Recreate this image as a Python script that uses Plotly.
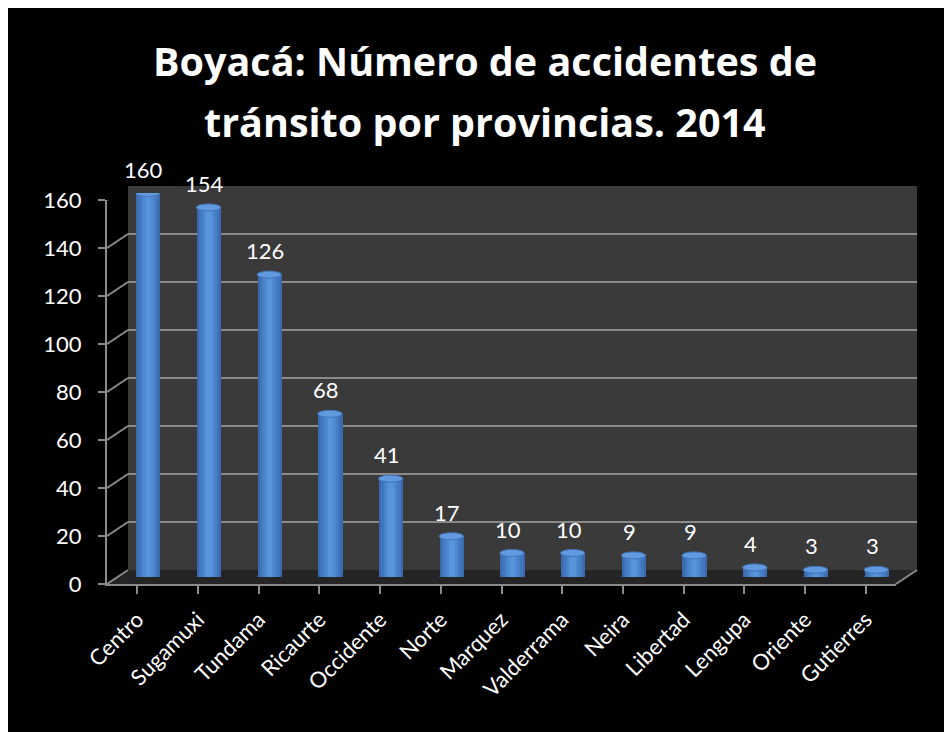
import plotly.graph_objects as go

# ---------------- data ----------------
provincias = ["Centro", "Sugamuxi", "Tundama", "Ricaurte", "Occidente", "Norte",
              "Marquez", "Valderrama", "Neira", "Libertad", "Lengupa", "Oriente", "Gutierres"]
accidentes = [160, 154, 126, 68, 41, 17, 10, 10, 9, 9, 4, 3, 3]
y_ticks = [0, 20, 40, 60, 80, 100, 120, 140, 160]
title_line1 = "Boyacá: Número de accidentes de"
title_line2 = "tránsito por provincias. 2014"

# ---------------- layout constants (figure pixels) ----------------
W, H = 952, 732
FX0, FX1 = 99, 888       # front x-axis extent
FY0, FY1 = 576, 192      # front y: value 0 / value 160
DX, DY = 21, 14          # depth offset of back wall
YMAX = 160
FONT = "Lato"
TFONT = "Open Sans"
GRID = "#8a8a8a"
WALL = "#3a3a3a"
FLOOR = "#252525"

def px(x):
    return x / W

def py(y):
    return (H - y) / H

n = len(provincias)
xr = [-0.5, n - 0.5]
scale = (FY0 - FY1) / YMAX          # px per unit
ddy = DY / scale                    # depth offset in data units

fig = go.Figure()

# shading layers of cylinders (overlay bars)
layers = [(0.40, "#3a6aad"), (0.33, "#4175bc"), (0.25, "#4880c8"), (0.17, "#4e8ad2"), (0.09, "#5894da")]
for w, c in layers:
    fig.add_trace(go.Bar(x=list(range(n)), y=accidentes, width=w,
                         marker=dict(color=c, line=dict(width=0)),
                         xaxis="x3", yaxis="y3", hoverinfo="skip", showlegend=False))

# invisible traces to activate front / back axes
fig.add_trace(go.Scatter(x=provincias, y=[None] * n, xaxis="x", yaxis="y",
                         mode="markers", showlegend=False, hoverinfo="skip"))
fig.add_trace(go.Scatter(x=[0], y=[None], xaxis="x2", yaxis="y2",
                         mode="markers", showlegend=False, hoverinfo="skip"))

shapes = []
# back wall
shapes.append(dict(type="rect", xref="x2 domain", yref="y2 domain", x0=0, x1=1, y0=0, y1=1,
                   fillcolor=WALL, line=dict(width=0), layer="below"))
# floor
floor_path = "M {a},{b} L {c},{b} L {d},{e} L {f},{e} Z".format(
    a=px(FX0), b=py(FY0), c=px(FX1), d=px(FX1 + DX), e=py(FY0 - DY), f=px(FX0 + DX))
shapes.append(dict(type="path", xref="paper", yref="paper", path=floor_path,
                   fillcolor=FLOOR, line=dict(width=0), layer="below"))
# floor right edge
shapes.append(dict(type="line", xref="paper", yref="paper", x0=px(FX1), y0=py(FY0),
                   x1=px(FX1 + DX), y1=py(FY0 - DY), line=dict(color=GRID, width=2), layer="below"))
# left side-wall connectors
for v in y_ticks:
    shapes.append(dict(type="line", xref="paper", yref="y", x0=px(FX0), y0=v,
                       x1=px(FX0 + DX), y1=v + ddy, line=dict(color=GRID, width=2), layer="below"))

# cylinder caps
cap_h = 7 / scale
for i, v in enumerate(accidentes):
    shapes.append(dict(type="circle", xref="x3", yref="y3", x0=i - 0.2, x1=i + 0.2,
                       y0=-cap_h / 2, y1=cap_h / 2, fillcolor="#33609e",
                       line=dict(width=0), layer="between"))
    shapes.append(dict(type="circle", xref="x3", yref="y3", x0=i - 0.2, x1=i + 0.2,
                       y0=v - cap_h / 2, y1=v + cap_h / 2, fillcolor="#619adf",
                       line=dict(color="#4274b8", width=1), layer="above"))

annotations = []
for i, v in enumerate(accidentes):
    annotations.append(dict(x=i, y=v, xref="x3", yref="y3", text=str(v), showarrow=False,
                            xanchor="center", yanchor="middle",
                            yshift=24, xshift=-4, font=dict(family=FONT, size=22, color="white")))
annotations.append(dict(x=px(477), y=py(53), xref="paper", yref="paper", text="<b>" + title_line1 + "</b>",
                        xanchor="center", yanchor="middle",
                        showarrow=False, font=dict(family=TFONT, size=39.5, color="white")))
annotations.append(dict(x=px(477), y=py(114), xref="paper", yref="paper", text="<b>" + title_line2 + "</b>",
                        xanchor="center", yanchor="middle",
                        showarrow=False, font=dict(family=TFONT, size=39.5, color="white")))

fig.update_layout(
    template="none",
    width=W, height=H, autosize=False,
    margin=dict(l=0, r=0, t=0, b=0, pad=0, autoexpand=False),
    paper_bgcolor="black", plot_bgcolor="rgba(0,0,0,0)",
    barmode="overlay", bargap=0,
    showlegend=False,
    shapes=shapes, annotations=annotations,
    xaxis=dict(domain=[px(FX0), px(FX1)], range=xr, anchor="y", automargin=False,
               tickmode="array", tickvals=list(range(n)), ticktext=provincias,
               ticks="outside", ticklen=8, tickwidth=2, tickcolor=GRID,
               showline=True, linecolor=GRID, linewidth=2, showgrid=False, zeroline=False,
               tickangle=-45, ticklabelstandoff=4,
               tickfont=dict(family=FONT, size=22, color="white")),
    yaxis=dict(domain=[py(FY0), py(FY1)], range=[0, YMAX], anchor="x", automargin=False,
               tickmode="array", tickvals=y_ticks,
               ticks="outside", ticklen=7, tickwidth=2, tickcolor=GRID,
               showline=True, linecolor=GRID, linewidth=2, showgrid=False, zeroline=False,
               ticklabelstandoff=12,
               tickfont=dict(family=FONT, size=22, color="white")),
    xaxis2=dict(domain=[px(FX0 + DX), px(FX1 + DX)], range=xr, anchor="y2",
                visible=False, automargin=False),
    yaxis2=dict(domain=[py(FY0 - DY), py(FY1 - DY)], range=[0, YMAX], anchor="x2", automargin=False,
                tickmode="array", tickvals=y_ticks, showgrid=True, gridcolor=GRID, gridwidth=2,
                showticklabels=False, ticks="", zeroline=False, showline=False),
    xaxis3=dict(domain=[px(FX0 + DX / 2), px(FX1 + DX / 2)], range=xr, anchor="y3",
                visible=False, automargin=False),
    yaxis3=dict(domain=[py(FY0 - DY / 2), py(FY1 - DY / 2)], range=[0, YMAX], anchor="x3",
                visible=False, automargin=False),
)

fig.write_html("out.html")
